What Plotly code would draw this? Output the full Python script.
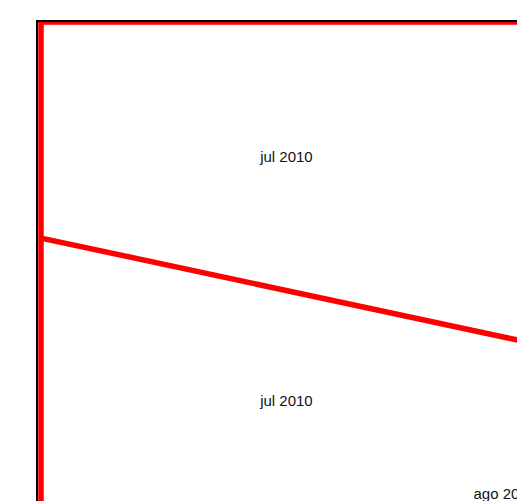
import plotly.graph_objects as go

# line series (dates, values)
line_dates = ["2010-09-01", "2010-07-01", "2010-07-01", "2010-07-01", "2010-08-01", "2010-09-01"]
line_values = [100, 100, -20, 54.9, 34.4, 13.9]

# text labels
label_dates = ["2010-07-17 14:00", "2010-07-17 14:00", "2010-08-01 08:00"]
label_values = [71.6, 20.7, 1.25]
label_texts = ["jul 2010", "jul 2010", "ago 2010"]

x_range = ["2010-06-30 19:08", "2010-08-02 03:50"]
y_range = [0, 100]

fig = go.Figure()
fig.add_trace(go.Scatter(x=line_dates, y=line_values, mode="lines",
                         line=dict(color="#FF0000", width=5.5), hoverinfo="skip",
                         showlegend=False))
fig.add_trace(go.Scatter(x=label_dates, y=label_values, mode="text", text=label_texts,
                         textfont=dict(family="Liberation Sans, Arial", size=15, color="#111111"),
                         textposition="middle center", showlegend=False, cliponaxis=False))

fig.update_layout(
    width=517, height=501,
    margin=dict(l=38, t=22, r=0, b=0, pad=0),
    paper_bgcolor="white", plot_bgcolor="white",
    xaxis=dict(range=x_range, side="top", showline=True, linecolor="black", linewidth=2,
               showgrid=False, zeroline=False, showticklabels=False, ticks=""),
    yaxis=dict(range=y_range, showline=True, linecolor="black", linewidth=2,
               showgrid=False, zeroline=False, showticklabels=False, ticks=""),
)
fig.write_html("out.html", config={"displayModeBar": False},
               post_script="document.body.style.margin='0';document.body.style.overflow='hidden';")
